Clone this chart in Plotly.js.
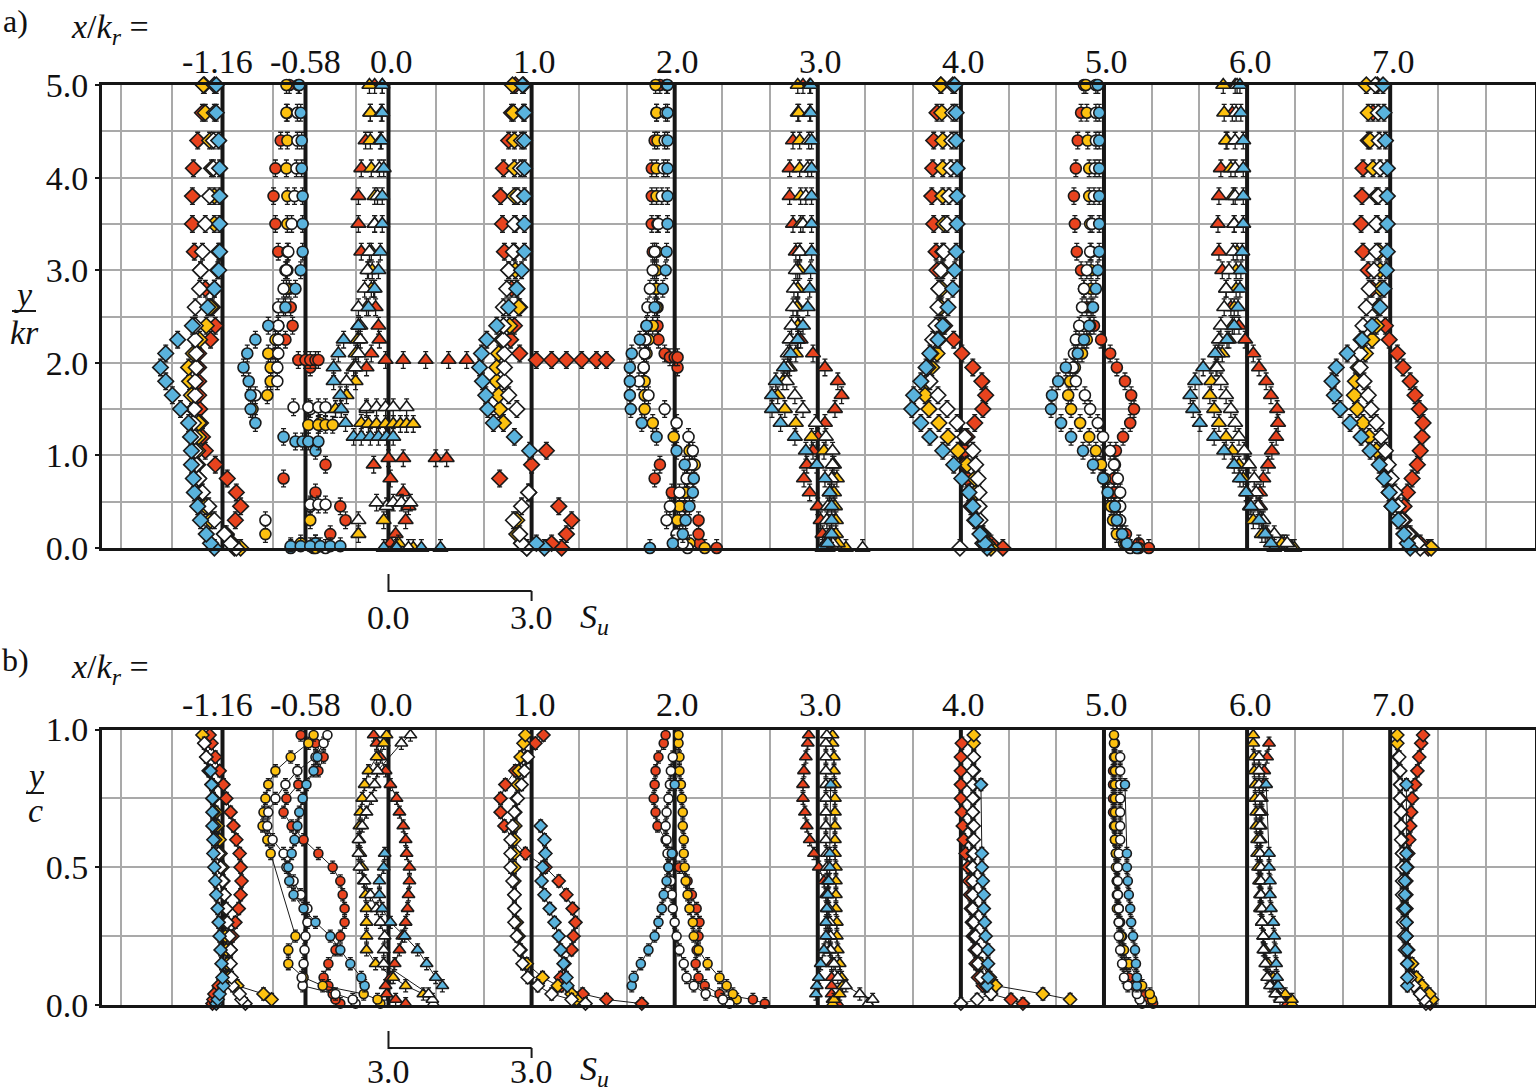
<!DOCTYPE html>
<html>
<head>
<meta charset="utf-8">
<script src="https://cdn.plot.ly/plotly-3.0.1.min.js"></script>
<style>
  body { margin: 0; background: #fff; }
  #plt1 { width: 1536px; height: 1091px; }
</style>
</head>
<body>
<div id="plt1"></div>
<script>
// stations x/kr and their marker shapes
var stations = [-1.16, -0.58, 0, 1, 2, 3, 4, 5, 6, 7];
var stationText = ['-1.16', '-0.58', '0.0', '1.0', '2.0', '3.0', '4.0', '5.0', '6.0', '7.0'];
var symbols = ['diamond', 'circle', 'triangle-up', 'diamond', 'circle', 'triangle-up', 'diamond', 'circle', 'triangle-up', 'diamond'];
var seriesNames = ['red', 'yellow', 'white', 'blue'];
var colors = {red: '#e8431e', yellow: '#fdc10f', white: '#ffffff', blue: '#5ab3dd'};

// vertical grid positions (x/kr)
var gridX = [-1.867, -1.513, -0.807, -0.226, 0.333, 0.667, 1.333, 1.667, 2.333, 2.667, 3.333, 3.667,
    4.333, 4.667, 5.333, 5.667, 6.333, 6.667, 7.333, 7.667];

// ---- panel a: y/kr levels and S_u per station ----
var levelsA = [0, 0.05, 0.15, 0.3, 0.45, 0.6, 0.75, 0.9, 1.05, 1.2, 1.35, 1.5, 1.65, 1.8, 1.95, 2.1, 2.25, 2.4, 2.6, 2.8, 3.0, 3.2, 3.5, 3.8, 4.1, 4.4, 4.7, 5.0];

var suA_red = [
    [0.25, 0.17, 0.08, 0.27, 0.38, 0.29, 0.10, -0.15, -0.36, -0.42, -0.46, -0.48, -0.50, -0.50, -0.50, -0.50, -0.25, -0.15, -0.21, -0.36, -0.46, -0.59, -0.63, -0.63, -0.61, -0.52, -0.42, -0.38],
    [0.17, 0.21, 0.52, 0.84, 0.73, 0.21, -0.46, 0.42, null, null, null, null, null, null, 0.10, -0.63, -0.42, -0.27, -0.31, -0.34, -0.42, -0.57, -0.63, -0.67, -0.63, -0.52, -0.38, -0.34],
    [-0.04, 0.04, 0.15, 0.36, 0.42, 0.31, 0.04, -0.31, null, null, null, null, null, null, -0.46, -0.36, -0.19, -0.21, -0.27, -0.31, -0.42, -0.57, -0.63, -0.63, -0.57, -0.48, -0.38, -0.29],
    [0.63, 0.42, 0.73, 0.84, 0.57, -0.06, -0.67, 0.00, 0.31, null, null, null, null, null, null, -0.25, -0.44, -0.36, -0.25, -0.42, -0.48, -0.57, -0.61, -0.65, -0.59, -0.48, -0.42, -0.34],
    [0.88, 0.52, 0.50, 0.50, 0.21, -0.06, -0.42, -0.31, null, null, null, null, null, null, 0.06, -0.21, -0.34, -0.36, -0.36, -0.40, -0.42, -0.46, -0.48, -0.48, -0.48, -0.42, -0.38, -0.31],
    [0.21, 0.17, 0.10, 0.06, 0.00, -0.17, -0.29, -0.23, -0.10, 0.00, 0.15, 0.36, 0.50, 0.42, 0.15, -0.10, -0.36, -0.40, -0.42, -0.42, -0.42, -0.46, -0.52, -0.59, -0.59, -0.52, -0.42, -0.31],
    [0.88, 0.63, 0.46, 0.29, 0.21, 0.17, 0.13, 0.08, 0.08, 0.13, 0.29, 0.46, 0.52, 0.44, 0.25, 0.02, -0.15, -0.34, -0.42, -0.46, -0.50, -0.52, -0.57, -0.61, -0.59, -0.57, -0.50, -0.42],
    [0.94, 0.73, 0.46, 0.27, 0.21, 0.21, 0.21, 0.23, 0.25, 0.40, 0.55, 0.63, 0.57, 0.44, 0.27, 0.13, -0.06, -0.21, -0.36, -0.42, -0.48, -0.57, -0.61, -0.63, -0.59, -0.55, -0.48, -0.42],
    [0.94, 0.78, 0.42, 0.31, 0.27, 0.27, 0.34, 0.44, 0.52, 0.61, 0.65, 0.63, 0.50, 0.40, 0.25, 0.13, -0.04, -0.17, -0.34, -0.44, -0.52, -0.59, -0.61, -0.59, -0.55, -0.42, -0.31, -0.25],
    [0.80, 0.63, 0.42, 0.29, 0.29, 0.36, 0.46, 0.57, 0.63, 0.67, 0.69, 0.61, 0.52, 0.42, 0.27, 0.15, -0.02, -0.10, -0.25, -0.38, -0.46, -0.57, -0.61, -0.59, -0.57, -0.46, -0.36, -0.27]
];
var suA_yellow = [
    [0.38, 0.21, 0.04, -0.25, -0.36, -0.44, -0.50, -0.52, -0.52, -0.50, -0.50, -0.61, -0.65, -0.69, -0.71, -0.61, -0.48, -0.34, -0.25, -0.17, -0.10, -0.08, -0.17, -0.17, -0.23, -0.27, -0.36, -0.40],
    [0.21, -0.10, -0.84, 0.10, null, null, null, null, null, null, 0.31, -1.11, -0.80, -0.73, -0.73, -0.78, -0.63, -0.57, -0.46, -0.40, -0.38, -0.38, -0.38, -0.38, -0.40, -0.38, -0.40, -0.40],
    [0.52, 0.21, -0.63, -0.10, null, null, null, null, null, null, -0.57, -1.11, -0.88, -0.69, -0.73, -0.69, -0.65, -0.63, -0.46, -0.36, -0.34, -0.36, -0.29, -0.29, -0.36, -0.38, -0.38, -0.40],
    [-0.10, -0.21, -0.31, -0.31, null, null, null, null, null, null, -0.59, -0.67, -0.69, -0.73, -0.73, -0.69, -0.63, -0.46, -0.27, -0.31, -0.34, -0.36, -0.34, -0.36, -0.36, -0.36, -0.38, -0.40],
    [0.63, 0.31, 0.10, 0.06, 0.10, 0.21, 0.27, 0.42, 0.31, -0.02, -0.46, -0.63, -0.63, -0.63, -0.65, -0.59, -0.55, -0.46, -0.38, -0.38, -0.38, -0.38, -0.36, -0.38, -0.38, -0.36, -0.38, -0.40],
    [0.59, 0.42, 0.38, 0.38, 0.36, 0.34, 0.40, 0.34, 0.13, -0.13, -0.46, -0.69, -0.84, -0.73, -0.59, -0.46, -0.42, -0.42, -0.44, -0.42, -0.38, -0.38, -0.36, -0.36, -0.38, -0.38, -0.40, -0.42],
    [0.63, 0.55, 0.46, 0.38, 0.34, 0.31, 0.29, 0.13, -0.06, -0.27, -0.46, -0.67, -0.75, -0.71, -0.61, -0.50, -0.46, -0.44, -0.42, -0.40, -0.38, -0.38, -0.36, -0.38, -0.38, -0.38, -0.40, -0.42],
    [0.73, 0.42, 0.27, 0.19, 0.15, 0.08, 0.02, -0.06, -0.17, -0.31, -0.50, -0.69, -0.75, -0.71, -0.61, -0.46, -0.36, -0.29, -0.27, -0.27, -0.27, -0.27, -0.29, -0.31, -0.31, -0.34, -0.36, -0.38],
    [0.99, 0.73, 0.31, 0.13, 0.06, 0.00, -0.08, -0.17, -0.31, -0.44, -0.59, -0.69, -0.78, -0.75, -0.65, -0.52, -0.38, -0.31, -0.27, -0.23, -0.23, -0.21, -0.27, -0.29, -0.34, -0.44, -0.48, -0.50],
    [0.86, 0.50, 0.29, 0.17, 0.04, -0.02, -0.10, -0.19, -0.29, -0.44, -0.57, -0.69, -0.75, -0.73, -0.67, -0.52, -0.38, -0.29, -0.25, -0.21, -0.21, -0.23, -0.27, -0.29, -0.36, -0.42, -0.46, -0.50]
];
var suA_white = [
    [0.29, 0.17, 0.04, -0.17, -0.29, -0.42, -0.50, -0.55, -0.57, -0.59, -0.61, -0.59, -0.57, -0.57, -0.55, -0.55, -0.57, -0.57, -0.57, -0.48, -0.46, -0.42, -0.36, -0.27, -0.19, -0.19, -0.17, -0.17],
    [0.42, null, null, -0.84, 0.10, null, null, null, null, null, null, 0.10, -1.05, -0.59, -0.59, -0.57, -0.57, -0.57, -0.57, -0.46, -0.40, -0.36, -0.29, -0.23, -0.19, -0.17, -0.17, -0.15],
    [0.42, null, null, -0.63, -0.04, null, null, null, null, null, null, -0.46, null, -0.88, -0.69, -0.63, -0.59, -0.59, -0.63, -0.50, -0.44, -0.40, -0.29, -0.23, -0.19, -0.17, -0.15, -0.13],
    [-0.10, -0.21, -0.25, -0.38, -0.21, -0.06, null, null, null, null, null, -0.31, -0.48, -0.57, -0.57, -0.57, -0.59, -0.59, -0.59, -0.52, -0.48, -0.38, -0.36, -0.29, -0.23, -0.21, -0.17, -0.17],
    [0.27, 0.17, 0.04, -0.17, -0.10, 0.10, 0.25, 0.36, 0.38, 0.29, 0.04, -0.21, -0.55, -0.75, -0.65, -0.63, -0.61, -0.59, -0.57, -0.52, -0.46, -0.42, -0.34, -0.27, -0.23, -0.21, -0.19, -0.17],
    [0.94, 0.31, 0.25, 0.19, 0.21, 0.25, 0.29, 0.31, 0.31, 0.17, -0.04, -0.31, -0.48, -0.65, -0.63, -0.63, -0.59, -0.55, -0.52, -0.50, -0.46, -0.38, -0.31, -0.25, -0.21, -0.19, -0.17, -0.17],
    [-0.02, 0.46, 0.42, 0.40, 0.38, 0.38, 0.36, 0.31, 0.25, 0.08, -0.08, -0.29, -0.48, -0.65, -0.69, -0.63, -0.59, -0.52, -0.48, -0.46, -0.42, -0.36, -0.29, -0.25, -0.21, -0.19, -0.17, -0.17],
    [0.55, 0.46, 0.38, 0.34, 0.34, 0.34, 0.29, 0.21, 0.13, -0.02, -0.13, -0.29, -0.40, -0.59, -0.65, -0.63, -0.59, -0.52, -0.46, -0.42, -0.36, -0.29, -0.25, -0.21, -0.19, -0.17, -0.17, -0.17],
    [0.94, 0.84, 0.57, 0.34, 0.23, 0.19, 0.15, 0.04, -0.06, -0.17, -0.25, -0.34, -0.44, -0.55, -0.63, -0.61, -0.59, -0.55, -0.48, -0.44, -0.38, -0.29, -0.27, -0.25, -0.25, -0.25, -0.23, -0.21],
    [0.63, 0.57, 0.38, 0.25, 0.17, 0.10, 0.02, -0.04, -0.10, -0.19, -0.29, -0.40, -0.46, -0.55, -0.63, -0.63, -0.61, -0.57, -0.50, -0.44, -0.34, -0.29, -0.29, -0.25, -0.21, -0.23, -0.25, -0.31]
];
var suA_blue = [
    [-0.17, -0.25, -0.34, -0.46, -0.52, -0.59, -0.61, -0.65, -0.65, -0.67, -0.71, -0.88, -1.05, -1.19, -1.30, -1.19, -0.94, -0.63, -0.31, -0.17, -0.08, -0.06, -0.06, -0.06, -0.06, -0.08, -0.13, -0.13],
    [-0.31, 0.21, null, null, null, null, null, null, 0.21, -0.46, -1.05, -1.15, -1.15, -1.19, -1.30, -1.22, -1.05, -0.78, -0.42, -0.21, -0.10, -0.06, -0.06, -0.06, -0.08, -0.08, -0.10, -0.13],
    [0.17, null, null, null, null, null, null, null, null, -0.73, -0.90, -0.99, -1.01, -1.15, -1.15, -1.05, -0.94, -0.63, -0.42, -0.29, -0.21, -0.17, -0.13, -0.13, -0.10, -0.15, -0.13, -0.13],
    [0.27, 0.10, null, null, null, null, null, null, -0.04, -0.36, -0.80, -0.92, -0.96, -1.03, -1.09, -1.05, -0.94, -0.73, -0.48, -0.31, -0.21, -0.15, -0.15, -0.15, -0.15, -0.15, -0.15, -0.19],
    [-0.52, -0.04, 0.17, 0.23, 0.31, 0.38, 0.40, 0.21, 0.04, -0.38, -0.69, -0.92, -0.94, -0.94, -0.94, -0.90, -0.73, -0.59, -0.42, -0.25, -0.19, -0.17, -0.15, -0.15, -0.15, -0.15, -0.15, -0.15],
    [0.10, 0.21, 0.29, 0.29, 0.29, 0.25, 0.15, -0.02, -0.25, -0.48, -0.78, -0.96, -0.96, -0.88, -0.71, -0.57, -0.42, -0.31, -0.21, -0.17, -0.15, -0.13, -0.13, -0.13, -0.13, -0.13, -0.15, -0.15],
    [0.55, 0.50, 0.40, 0.31, 0.25, 0.17, 0.02, -0.15, -0.38, -0.65, -0.84, -1.03, -0.99, -0.84, -0.73, -0.65, -0.48, -0.38, -0.27, -0.17, -0.13, -0.10, -0.08, -0.08, -0.08, -0.10, -0.10, -0.13],
    [0.69, 0.48, 0.38, 0.27, 0.23, 0.08, -0.02, -0.23, -0.44, -0.69, -0.90, -1.11, -1.09, -0.96, -0.80, -0.55, -0.42, -0.31, -0.23, -0.17, -0.13, -0.10, -0.10, -0.10, -0.10, -0.10, -0.10, -0.13],
    [0.57, 0.50, 0.38, 0.25, 0.08, -0.02, -0.15, -0.27, -0.48, -0.69, -0.99, -1.13, -1.19, -1.09, -0.92, -0.67, -0.42, -0.27, -0.19, -0.15, -0.13, -0.10, -0.08, -0.08, -0.08, -0.08, -0.13, -0.15],
    [0.42, 0.36, 0.29, 0.17, 0.04, -0.02, -0.13, -0.23, -0.42, -0.61, -0.84, -1.05, -1.17, -1.22, -1.13, -0.90, -0.59, -0.38, -0.21, -0.13, -0.08, -0.06, -0.06, -0.06, -0.06, -0.10, -0.13, -0.15]
];

// horizontal rows of points in panel a
var rowStation = [-0.58, -0.58, -0.58, -0.58, -0.58, -0.58, 0, 0, 0, 0, 0, 0, 0, 1, 2];
var rowSeries = ['red', 'yellow', 'white', 'white', 'blue', 'blue', 'red', 'red', 'yellow', 'white', 'white', 'blue', 'blue', 'red', 'red'];
var rowY = [2.03, 1.33, 1.52, 0.47, 1.15, 0.02, 2.03, 0.97, 1.34, 1.52, 0.49, 1.2, 0.0, 2.03, 2.06];
var rowSu = [
    [-0.15, 0.0, 0.10, 0.21, 0.27],
    [0.06, 0.27, 0.42, 0.57],
    [-0.25, 0.06, 0.27, 0.42],
    [0.10, 0.27, 0.42],
    [-0.21, -0.06, 0.06, 0.27],
    [-0.31, -0.10, 0.10, 0.31, 0.52, 0.73],
    [-0.06, 0.31, 0.78, 1.26, 1.64],
    [0.0, 0.31, 0.99, 1.22],
    [-0.42, -0.25, -0.06, 0.10, 0.25, 0.38, 0.52],
    [-0.46, -0.25, -0.06, 0.10, 0.38],
    [-0.25, 0.10, 0.27, 0.46],
    [-0.57, -0.38, -0.21, -0.04, 0.10],
    [-0.10, 0.17, 0.69, 1.09],
    [0.10, 0.42, 0.73, 1.05, 1.36, 1.57],
    [-0.10, 0.0, 0.06]
];

// ---- panel b: y/c levels and S_u per station ----
var levelsB = [0.005, 0.02, 0.04, 0.07, 0.1, 0.15, 0.2, 0.25, 0.3, 0.35, 0.4, 0.45, 0.5, 0.55, 0.6, 0.65, 0.7, 0.75, 0.8, 0.85, 0.9, 0.95, 0.98];

var suB_red = [
    [-0.21, -0.19, -0.17, -0.08, 0.04, 0.10, 0.17, 0.21, 0.27, 0.34, 0.38, 0.40, 0.38, 0.36, 0.29, 0.23, 0.17, 0.08, 0.02, -0.06, -0.15, -0.23, -0.27],
    [0.73, 0.63, 0.57, 0.48, 0.38, 0.48, 0.63, 0.73, 0.82, 0.82, 0.78, 0.73, 0.57, 0.27, -0.04, -0.29, -0.46, -0.40, -0.15, 0.27, 0.38, 0.21, -0.10],
    [0.36, 0.15, -0.04, -0.06, 0.04, 0.13, 0.23, 0.29, 0.36, 0.40, 0.42, 0.44, 0.44, 0.38, 0.36, 0.31, 0.23, 0.17, 0.04, -0.06, -0.17, -0.25, -0.31],
    [2.31, 1.57, 1.07, 0.63, 0.61, 0.69, 0.84, 0.88, 0.92, 0.86, 0.73, 0.57, 0.29, -0.13, -0.40, -0.57, -0.65, -0.65, -0.55, -0.34, -0.10, 0.08, 0.25],
    [1.89, 1.64, 0.94, 0.63, 0.50, 0.44, 0.46, 0.50, 0.52, 0.46, 0.36, 0.27, 0.10, -0.04, -0.19, -0.36, -0.40, -0.44, -0.42, -0.40, -0.34, -0.23, -0.19],
    [0.42, 0.31, 0.29, 0.29, 0.29, 0.29, 0.25, 0.23, 0.21, 0.19, 0.17, 0.13, 0.02, -0.08, -0.17, -0.23, -0.27, -0.31, -0.31, -0.29, -0.25, -0.21, -0.19],
    [1.30, 1.05, 0.63, 0.46, 0.36, 0.31, 0.29, 0.25, 0.23, 0.21, 0.19, 0.17, 0.15, 0.10, 0.06, 0.04, 0.02, 0.00, 0.00, 0.00, 0.00, 0.02, null],
    [1.03, 0.94, 0.80, 0.63, 0.52, 0.44, 0.40, 0.38, 0.34, 0.31, 0.29, 0.27, 0.27, 0.25, 0.23, 0.21, 0.19, 0.19, 0.19, 0.19, 0.21, 0.23, null],
    [0.84, 0.75, 0.63, 0.52, 0.46, 0.40, 0.36, 0.34, 0.31, 0.29, 0.29, 0.27, 0.27, 0.27, 0.29, 0.29, 0.31, 0.31, 0.34, 0.36, 0.42, 0.46, null],
    [0.84, 0.75, 0.63, 0.52, 0.46, 0.40, 0.36, 0.34, 0.34, 0.34, 0.34, 0.34, 0.36, 0.38, 0.40, 0.42, 0.44, 0.46, 0.52, 0.57, 0.61, 0.65, 0.69]
];
var suB_yellow = [
    [null, 1.03, 0.86, 0.31, 0.13, 0.10, 0.08, 0.06, 0.06, 0.04, 0.04, 0.02, 0.00, -0.04, -0.06, -0.10, -0.13, -0.19, -0.21, -0.29, -0.34, -0.38, -0.42],
    [1.57, 1.51, 1.22, 0.36, -0.04, -0.36, -0.36, -0.21, null, null, null, null, null, -0.73, -0.80, -0.90, -0.88, -0.84, -0.78, -0.63, -0.31, 0.06, 0.17],
    [null, null, 0.73, 0.36, 0.10, -0.27, -0.46, -0.46, -0.46, -0.46, -0.48, -0.52, -0.55, -0.59, -0.61, -0.61, -0.59, -0.55, -0.50, -0.42, -0.25, -0.10, -0.04],
    [null, 0.94, 0.84, 0.55, 0.23, -0.10, -0.23, -0.27, -0.31, -0.36, -0.36, -0.36, -0.36, -0.36, -0.36, -0.34, -0.34, -0.31, -0.29, -0.27, -0.23, -0.17, -0.13],
    [null, 1.30, 1.22, 1.09, 0.94, 0.69, 0.50, 0.40, 0.38, 0.31, 0.27, 0.23, 0.21, 0.19, 0.19, 0.17, 0.17, 0.15, 0.13, 0.10, 0.10, 0.08, 0.08],
    [0.31, 0.34, 0.46, 0.52, 0.50, 0.46, 0.42, 0.40, 0.40, 0.38, 0.38, 0.38, 0.38, 0.36, 0.36, 0.36, 0.36, 0.36, 0.36, 0.34, 0.34, 0.31, 0.31],
    [null, 2.29, 1.72, 0.73, 0.61, 0.42, 0.34, 0.29, 0.27, 0.27, 0.25, 0.25, 0.25, 0.25, 0.25, 0.25, 0.25, 0.27, 0.27, 0.27, 0.27, 0.27, 0.27],
    [null, 1.01, 0.96, 0.80, 0.69, 0.52, 0.42, 0.36, 0.31, 0.27, 0.27, 0.27, 0.25, 0.25, 0.23, 0.23, 0.23, 0.23, 0.23, 0.23, 0.23, 0.21, 0.21],
    [0.94, 0.94, 0.80, 0.63, 0.55, 0.44, 0.38, 0.34, 0.31, 0.27, 0.27, 0.25, 0.23, 0.21, 0.21, 0.19, 0.19, 0.17, 0.17, 0.15, 0.15, 0.13, 0.13],
    [null, 0.88, 0.82, 0.67, 0.55, 0.46, 0.38, 0.34, 0.31, 0.29, 0.27, 0.27, 0.25, 0.25, 0.25, 0.23, 0.23, 0.21, 0.21, 0.19, 0.17, 0.15, 0.15]
];
var suB_white = [
    [0.48, 0.40, 0.36, 0.21, 0.19, 0.17, 0.17, 0.15, 0.10, 0.08, 0.04, 0.00, -0.04, -0.08, -0.15, -0.17, -0.19, -0.21, -0.23, -0.27, -0.34, -0.38, null],
    [1.05, 0.99, 0.63, -0.06, -0.08, -0.04, -0.02, 0.00, 0.04, 0.04, -0.10, -0.25, -0.40, -0.46, -0.69, -0.80, -0.78, -0.63, -0.42, -0.17, 0.21, 0.38, 0.46],
    [0.94, 0.92, 0.84, null, null, -0.10, -0.10, -0.08, -0.17, -0.25, -0.38, -0.50, -0.61, -0.63, -0.63, -0.55, -0.46, -0.36, -0.29, -0.23, null, 0.27, 0.46],
    [1.13, 0.84, 0.42, 0.13, -0.08, -0.19, -0.25, -0.31, -0.36, -0.36, -0.36, -0.40, -0.44, -0.44, -0.44, -0.40, -0.36, -0.29, -0.21, -0.15, -0.08, null, null],
    [1.15, 1.01, 0.65, 0.40, 0.25, 0.19, 0.10, 0.04, 0.00, -0.04, -0.06, -0.08, -0.13, -0.15, -0.17, -0.19, -0.17, -0.13, -0.10, -0.08, -0.04, null, null],
    [1.05, 1.15, 0.88, 0.59, 0.42, 0.34, 0.27, 0.27, 0.25, 0.23, 0.21, 0.21, 0.19, 0.19, 0.17, 0.17, 0.17, 0.17, 0.17, 0.17, 0.17, 0.17, 0.19],
    [0.00, 0.34, 0.63, 0.52, 0.42, 0.36, 0.34, 0.31, 0.27, 0.25, 0.25, 0.25, 0.25, 0.27, 0.27, 0.27, 0.25, 0.25, 0.25, 0.25, 0.27, null, null],
    [0.80, 0.75, 0.69, 0.50, 0.42, 0.38, 0.34, 0.31, 0.31, 0.31, 0.29, 0.29, 0.29, 0.31, 0.34, 0.34, 0.34, 0.34, 0.34, 0.34, 0.34, null, null],
    [null, 0.69, 0.59, 0.48, 0.42, 0.38, 0.34, 0.34, 0.31, 0.31, 0.29, 0.29, 0.29, 0.27, 0.27, 0.27, 0.27, 0.27, 0.25, 0.25, 0.25, null, null],
    [0.75, 0.71, 0.63, 0.50, 0.42, 0.36, 0.31, 0.29, 0.27, 0.27, 0.25, 0.25, 0.25, 0.25, 0.23, 0.23, 0.23, 0.21, 0.21, 0.21, 0.19, null, null]
];
var suB_blue = [
    [-0.13, -0.10, -0.06, 0.02, 0.00, -0.02, -0.04, -0.06, -0.08, -0.10, -0.13, -0.15, -0.17, -0.19, -0.19, -0.21, -0.21, -0.21, -0.23, -0.25, null, null, null],
    [null, null, null, 1.24, 1.17, 0.94, 0.73, 0.52, 0.21, -0.04, -0.25, -0.34, -0.36, -0.29, -0.23, -0.17, -0.13, -0.06, 0.02, 0.17, 0.25, null, null],
    [null, null, null, 1.13, 0.99, 0.80, 0.61, 0.34, 0.04, -0.13, -0.19, -0.19, -0.10, -0.08, null, null, null, null, null, null, null, null, null],
    [null, null, null, 0.75, 0.73, 0.67, 0.61, 0.57, 0.48, 0.38, 0.27, 0.21, 0.23, 0.29, 0.27, 0.19, null, null, null, null, null, null, null],
    [null, null, null, -0.90, -0.86, -0.71, -0.55, -0.42, -0.34, -0.27, -0.23, -0.17, -0.13, -0.06, null, null, null, null, 0.00, null, null, null, null],
    [null, null, -0.04, -0.02, 0.02, 0.06, 0.13, 0.17, 0.17, 0.19, 0.21, 0.23, 0.25, 0.25, null, null, null, null, 0.27, null, null, null, null],
    [null, null, null, 0.55, 0.57, 0.57, 0.57, 0.52, 0.50, 0.48, 0.48, 0.46, 0.44, 0.44, null, null, null, null, 0.42, null, null, null, null],
    [null, null, null, 0.69, 0.69, 0.67, 0.65, 0.61, 0.57, 0.55, 0.52, 0.50, 0.48, 0.48, null, null, null, null, 0.44, null, null, null, null],
    [null, null, null, 0.65, 0.63, 0.61, 0.59, 0.57, 0.55, 0.50, 0.48, 0.48, 0.46, 0.46, null, null, null, null, 0.40, null, null, null, null],
    [null, null, null, 0.36, 0.36, 0.36, 0.36, 0.34, 0.34, 0.31, 0.31, 0.31, 0.34, 0.34, null, null, null, null, 0.34, null, null, null, null]
];

var suA = [suA_red, suA_yellow, suA_white, suA_blue];
var suB = [suB_red, suB_yellow, suB_white, suB_blue];

var FONT = 'Liberation Serif, Times New Roman, serif';
var W = 1536, H = 1091;
function px(x) { return x / W; }
function py(y) { return 1 - y / H; }

// S_u is plotted as an offset: 3.0 of S_u spans one unit of x/kr
function toX(st, su) {
    return su.map(function (s) { return s === null ? null : st + s / 3; });
}

var traces = [];

// station lines drawn as data lines, under the markers
function stationLine(xa, ya, st, y1) {
    return {
        type: 'scatter', xaxis: xa, yaxis: ya, x: [st, st], y: [0, y1], mode: 'lines',
        line: {color: '#161616', width: 4}, hoverinfo: 'skip', showlegend: false, cliponaxis: true
    };
}
stations.forEach(function (st) {
    traces.push(stationLine('x', 'y', st, 5));
    traces.push(stationLine('x2', 'y2', st, 1));
});

function profileTrace(xa, ya, sym, name, xs, ys, size, errY, withLine) {
    return {
        type: 'scatter', xaxis: xa, yaxis: ya,
        x: xs, y: ys,
        mode: withLine ? 'lines+markers' : 'markers',
        connectgaps: true,
        cliponaxis: false,
        line: {color: '#1a1a1a', width: 1},
        marker: {
            symbol: sym, size: size, color: colors[name],
            line: {color: '#1a1a1a', width: 1.6}
        },
        error_y: {type: 'constant', value: errY, thickness: 1.3, width: 2.5, color: '#1a1a1a'},
        hoverinfo: 'skip', showlegend: false
    };
}

function markerSize(sym, base) {
    if (sym === 'circle') return base - 1;
    if (sym === 'triangle-up') return base + 1;
    return base;
}

// panel a
seriesNames.forEach(function (name, k) {
    stations.forEach(function (st, i) {
        traces.push(profileTrace('x', 'y', symbols[i], name,
            toX(st, suA[k][i]), levelsA, markerSize(symbols[i], 12), 0.09, false));
    });
});
rowStation.forEach(function (st, r) {
    var i = stations.indexOf(st);
    traces.push(profileTrace('x', 'y', symbols[i], rowSeries[r],
        toX(st, rowSu[r]), rowSu[r].map(function () { return rowY[r]; }),
        markerSize(symbols[i], 12), 0.09, false));
});

// panel b
seriesNames.forEach(function (name, k) {
    stations.forEach(function (st, i) {
        traces.push(profileTrace('x2', 'y2', symbols[i], name,
            toX(st, suB[k][i]), levelsB, markerSize(symbols[i], 10), 0.022, true));
    });
});

// scale bars and fraction bars
var shapes = [];
function scaleBar(xref, yLine) {
    var s = {color: '#1a1a1a', width: 2};
    return [
        {type: 'line', xref: xref, yref: 'paper', x0: 0, x1: 1, y0: py(yLine), y1: py(yLine), line: s},
        {type: 'line', xref: xref, yref: 'paper', x0: 0, x1: 0, y0: py(yLine - 17), y1: py(yLine + 1), line: s},
        {type: 'line', xref: xref, yref: 'paper', x0: 1, x1: 1, y0: py(yLine), y1: py(yLine + 10), line: s}
    ];
}
shapes = shapes.concat(scaleBar('x', 591), scaleBar('x2', 1048));
shapes.push({type: 'line', xref: 'paper', yref: 'paper', x0: px(12), x1: px(36), y0: py(311), y1: py(311),
    line: {color: '#1a1a1a', width: 2}});
shapes.push({type: 'line', xref: 'paper', yref: 'paper', x0: px(26), x1: px(44), y0: py(793), y1: py(793),
    line: {color: '#1a1a1a', width: 2}});

var annotations = [];
function txt(x, y, text, size, xref, extra) {
    var a = {
        xref: xref || 'paper', yref: 'paper', x: xref ? x : px(x), y: py(y),
        text: text, showarrow: false, xanchor: 'center', yanchor: 'middle',
        font: {family: FONT, size: size, color: '#111'}
    };
    for (var k in extra || {}) a[k] = extra[k];
    return a;
}
annotations.push(txt(15, 21, 'a)', 32));
annotations.push(txt(15, 660, 'b)', 32));
annotations.push(txt(110, 29, '<i>x</i>/<i>k<sub>r</sub></i> =', 34));
annotations.push(txt(110, 669, '<i>x</i>/<i>k<sub>r</sub></i> =', 34));
stations.forEach(function (st, i) {
    var shift = st < -1 ? -5 : (st < 0 ? 0 : 3);
    annotations.push(txt(st, 61, stationText[i], 34, 'x', {xshift: shift}));
    annotations.push(txt(st, 704, stationText[i], 34, 'x2', {xshift: shift}));
});
annotations.push(txt(23, 294, '<i>y</i>', 34));
annotations.push(txt(24, 333, '<i>kr</i>', 34));
annotations.push(txt(35, 775, '<i>y</i>', 34));
annotations.push(txt(35, 810, '<i>c</i>', 34));
annotations.push(txt(0, 617, '0.0', 34, 'x'));
annotations.push(txt(1, 617, '3.0', 34, 'x'));
annotations.push(txt(1.44, 619, '<i>S<sub>u</sub></i>', 34, 'x'));
annotations.push(txt(0, 1071, '3.0', 34, 'x2'));
annotations.push(txt(1, 1071, '3.0', 34, 'x2'));
annotations.push(txt(1.44, 1071, '<i>S<sub>u</sub></i>', 34, 'x2'));

function xAxis(anchor) {
    return {
        domain: [px(102), px(1535)], range: [-2.002, 8.012], anchor: anchor,
        tickmode: 'array', tickvals: gridX, showticklabels: false, ticks: '',
        showgrid: true, gridcolor: '#a9a9a9', gridwidth: 2, zeroline: false,
        showline: true, mirror: true, linecolor: '#161616', linewidth: 3, fixedrange: true
    };
}
function yAxis(anchor, top, bottom, range, dtick, minorStep) {
    return {
        domain: [py(bottom), py(top)], range: range, anchor: anchor,
        tickmode: 'linear', tick0: 0, dtick: dtick, tickformat: '.1f',
        ticks: 'outside', ticklen: 4, tickwidth: 2, tickcolor: '#161616',
        tickfont: {family: FONT, size: 34, color: '#111'},
        minor: {tickmode: 'linear', tick0: 0, dtick: minorStep, showgrid: true,
            gridcolor: '#a9a9a9', gridwidth: 2, ticks: ''},
        showgrid: true, gridcolor: '#a9a9a9', gridwidth: 2, zeroline: false,
        showline: true, mirror: true, linecolor: '#161616', linewidth: 3, fixedrange: true
    };
}

var layout = {
    width: W, height: H,
    margin: {l: 0, r: 0, t: 0, b: 0},
    paper_bgcolor: '#fff', plot_bgcolor: '#fff',
    font: {family: FONT, color: '#111'},
    showlegend: false,
    xaxis: xAxis('y'),
    yaxis: yAxis('x', 85, 548, [0, 5], 1, 0.5),
    xaxis2: xAxis('y2'),
    yaxis2: yAxis('x2', 729.5, 1005, [0, 1], 0.5, 0.25),
    shapes: shapes,
    annotations: annotations
};

Plotly.newPlot('plt1', traces, layout, {staticPlot: true});
</script>
</body>
</html>
